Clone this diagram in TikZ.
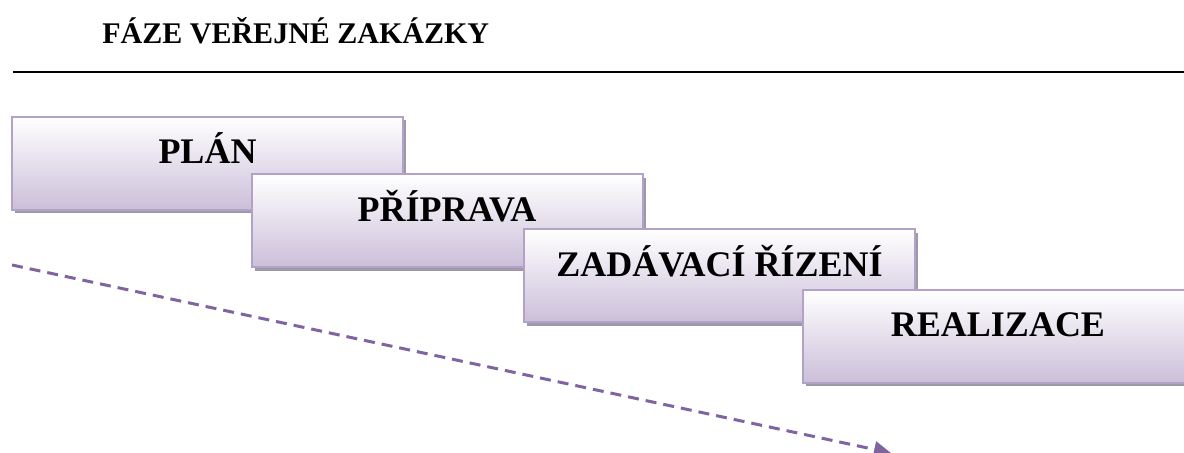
\documentclass[tikz,border=0pt]{standalone}
\usepackage{fontspec}
\setmainfont{Liberation Serif}
\usetikzlibrary{shadows,arrows.meta}
\definecolor{phaseBorder}{HTML}{B3A2C7}
\definecolor{phaseBottom}{HTML}{CBBFD9}
\definecolor{phaseShadow}{HTML}{9F98A9}
\definecolor{arrowPurple}{HTML}{8064A2}
\tikzset{
	phase/.style={rectangle,draw=phaseBorder,line width=1pt,top color=white,bottom color=phaseBottom,
		minimum width=195.5pt,minimum height=46.5pt,text height=12.5pt,text depth=12pt,
		font=\fontsize{18}{21}\selectfont\bfseries,
		drop shadow={shadow xshift=1.6pt,shadow yshift=-1.6pt,fill=phaseShadow,opacity=1}},
}
\begin{document}
\begin{tikzpicture}[x=0.5pt,y=-0.5pt]
	\useasboundingbox (0,0) rectangle (1184,453);
	\node[anchor=base west,inner sep=0pt,font=\fontsize{15}{18}\selectfont\bfseries] (title) at (102,44) {FÁZE VEŘEJNÉ ZAKÁZKY};
	\coordinate (ruleL) at (13,72);
	\coordinate (ruleR) at (1184,72);
	\draw[line width=1pt] (ruleL) -- (ruleR);
	%
	\node[phase] (plan) at (207.5,163.5) {PLÁN};
	\node[phase] (priprava) at (447,221) {PŘÍPRAVA};
	\node[phase] (rizeni) at (719.5,276) {ZADÁVACÍ ŘÍZENÍ};
	\node[phase] (realizace) at (998,336.5) {REALIZACE};
	%
	\coordinate (casStart) at (12,265);
	\coordinate (casEnd) at (891,453);
	\draw[arrowPurple,line width=1.5pt,dash pattern=on 5.5pt off 3.5pt,-{Triangle[length=8.5pt,width=8pt]}] (casStart) -- (casEnd);
\end{tikzpicture}
\end{document}
